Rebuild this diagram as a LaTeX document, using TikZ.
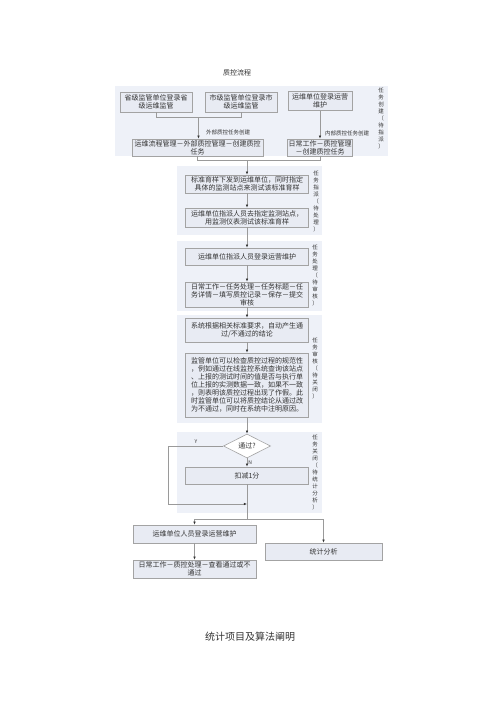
\documentclass[tikz,border=0pt]{standalone}
\usepackage{fontspec}
\setmainfont{Noto Sans CJK SC}
\usetikzlibrary{shapes.geometric,arrows.meta}
\definecolor{bandc}{HTML}{EEF1F8}
\definecolor{boxc}{HTML}{E8EBF3}
\definecolor{borderc}{HTML}{A3A3A3}
\definecolor{linec}{HTML}{9A9A9A}
\definecolor{textc}{HTML}{333333}
\tikzset{
  band/.style={fill=bandc,draw=none},
  box/.style={draw=borderc,fill=boxc,line width=0.6pt,align=center,inner sep=1pt,
    text=textc,font=\fontsize{7}{8.1}\selectfont},
  vlabel/.style={align=center,text=textc,font=\fontsize{5.5}{7}\selectfont,inner sep=0pt},
  slabel/.style={text=textc,font=\fontsize{5.5}{6}\selectfont,inner sep=1pt},
  conn/.style={draw=linec,line width=0.6pt},
  arr/.style={conn,-{Latex[length=3.2pt,width=2.6pt,color=black!80]}},
}
\begin{document}
\begin{tikzpicture}[x=1pt,y=-1pt]
\fill[white] (0,0) rectangle (500,707);
\useasboundingbox (0,0) rectangle (500,707);
% title
\node[text=textc,font=\fontsize{7}{8}\selectfont] (title) at (237,73) {质控流程};
% bands
\fill[band] (115,86) rectangle (388,156);
\fill[band] (177,166) rectangle (322,235);
\fill[band] (177,241) rectangle (322,311);
\fill[band] (177,315) rectangle (322,423);
\fill[band] (177,432) rectangle (322,513);
% side labels
\node[vlabel] (l1) at (381,118) {任\\务\\创\\建\\（\\待\\指\\派\\）};
\node[vlabel] (l2) at (316,201) {任\\务\\指\\派\\（\\待\\处\\理\\）};
\node[vlabel] (l3) at (315,275) {任\\务\\处\\理\\（\\待\\审\\核\\）};
\node[vlabel] (l4) at (315,368) {任\\务\\审\\核\\（\\待\\关\\闭\\）};
\node[vlabel] (l5) at (315,472) {任\\务\\关\\闭\\（\\待\\统\\计\\分\\析\\）};
% band 1
\node[box,minimum width=72,minimum height=20] (b1) at (156,102) {省级监管单位登录省\\级运维监管};
\node[box,minimum width=72,minimum height=20] (b2) at (241,102) {市级监管单位登录市\\级运维监管};
\node[box,minimum width=64,minimum height=19] (b3) at (320,101) {运维单位登录运营\\维护};
\node[box,minimum width=131,minimum height=17] (ext) at (197.5,147.5) {运维流程管理－外部质控管理－创建质控\\任务};
\node[box,minimum width=64,minimum height=17] (int) at (320,147.5) {日常工作－质控管理\\－创建质控任务};
\coordinate (j1) at (198.5,117);
\draw[conn] (b1.south) -- (b1.south |- j1) -- (b2.south |- j1) -- (b2.south);
\draw[arr] (j1) -- (j1 |- ext.north);
\draw[arr] (b3.south) -- (int.north);
\node[slabel] (lext) at (228,132) {外部质控任务创建};
\node[slabel] (lint) at (347,133) {内部质控任务创建};
% band 2
\node[box,minimum width=123,minimum height=18] (s1) at (247,184) {标准育样下发到运维单位，同时指定\\具体的监测站点来测试该标准育样};
\node[box,minimum width=123,minimum height=19] (s2) at (247,217.5) {运维单位指派人员去指定监测站点，\\用监测仪表测试该标准育样};
\coordinate (j2) at (247,160);
\draw[conn] (ext.south) -- (ext.south |- j2) -- (int.south |- j2) -- (int.south);
\draw[arr] (j2) -- (s1.north);
\draw[arr] (s1) -- (s2);
% band 3
\node[box,minimum width=123,minimum height=17] (p1) at (247,256.5) {运维单位指派人员登录运营维护};
\node[box,minimum width=123,minimum height=25] (p2) at (247,294.5) {日常工作－任务处理－任务标题－任\\务详情－填写质控记录－保存－提交\\审核};
\draw[arr] (s2) -- (p1);
\draw[arr] (p1) -- (p2);
% band 4
\node[box,minimum width=123,minimum height=24] (r1) at (247,330) {系统根据相关标准要求，自动产生通\\过/不通过的结论};
\node[box,minimum width=123,minimum height=64] (r2) at (247,385) {监管单位可以检查质控过程的规范性\\，例如通过在线监控系统查询该站点\\、上报的测试时间的值是否与执行单\\位上报的实测数据一致，如果不一致\\，则表明该质控过程出现了作假。此\\时监管单位可以将质控结论从通过改\\为不通过，同时在系统中注明原因。};
\draw[arr] (p2) -- (r1);
\draw[arr] (r1) -- (r2);
% band 5
\node[diamond,draw=borderc,fill=white,line width=0.6pt,minimum width=47,minimum height=24,inner sep=0pt,text=textc,font=\fontsize{7}{8}\selectfont] (d) at (247,446) {通过?};
\node[box,minimum width=123,minimum height=17] (k) at (247,475.5) {扣减1分};
\draw[arr] (r2) -- (d);
\draw[arr] (d) -- node[pos=0.5,right,slabel,font=\fontsize{5}{6}\selectfont] (ln) {N} (k);
\coordinate (yl) at (168,446);
\coordinate (yb) at (168,504);
\coordinate (m5) at (247,504);
\draw[arr] (d.west) -- (yl) -- (yb) -- (m5);
\node[slabel,font=\fontsize{5}{6}\selectfont] (ly) at (196,442) {Y};
\coordinate (j3) at (247,519);
\draw[conn] (k.south) -- (j3);
% bottom
\node[box,minimum width=123,minimum height=18] (u1) at (194.5,534) {运维单位人员登录运营维护};
\node[box,minimum width=117,minimum height=17] (st) at (323.5,551.5) {统计分析};
\node[box,minimum width=123,minimum height=18] (u2) at (194.5,569) {日常工作－质控处理－查看通过或不\\通过};
\coordinate (ja) at (194.5,519);
\coordinate (jb) at (323.5,519);
\draw[conn] (ja) -- (jb);
\draw[arr] (ja) -- (u1.north);
\draw[arr] (jb) -- (st.north);
\draw[arr] (u1) -- (u2);
% caption
\node[text=textc,font=\fontsize{10}{12}\selectfont] (cap) at (250,637) {统计项目及算法阐明};
\end{tikzpicture}
\end{document}
